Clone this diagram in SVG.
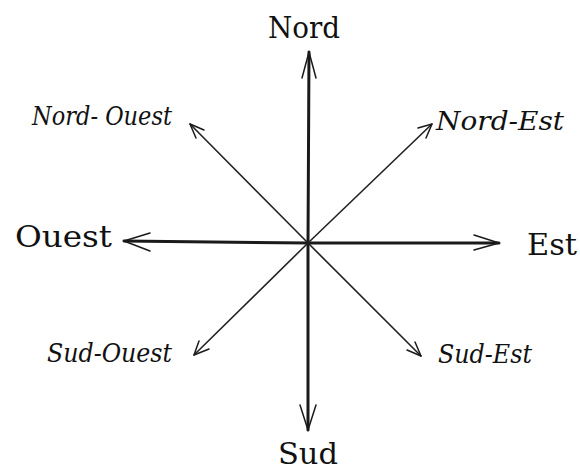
<svg xmlns="http://www.w3.org/2000/svg" width="580" height="470" viewBox="0 0 580 470">
<style>
.main{stroke:#1a1a1a;stroke-width:3;fill:none;stroke-linecap:round}
.diag{stroke:#222;stroke-width:1.6;fill:none;stroke-linecap:round}
.head{stroke:#1a1a1a;stroke-width:1.5;fill:none;stroke-linecap:round;stroke-linejoin:round}
.card{font-family:"DejaVu Serif","Liberation Serif",serif;font-size:30px;fill:#111}
.inter{font-family:"DejaVu Serif","Liberation Serif",serif;font-style:italic;font-size:26px;fill:#111}
</style>
<rect width="580" height="470" fill="#fff"/>
<g id="connectors">
<line class="main" x1="308" y1="243" x2="309" y2="52"/>
<polyline class="head" points="302,78 309,52 316,78"/>
<line class="main" x1="308" y1="243" x2="308" y2="430"/>
<polyline class="head" points="300,405 308,430 316,405"/>
<line class="main" x1="308" y1="243" x2="124" y2="241"/>
<polyline class="head" points="150,233 124,241 150,251"/>
<line class="main" x1="308" y1="243" x2="499" y2="243"/>
<polyline class="head" points="474,235 499,243 474,250"/>
<line class="diag" x1="308" y1="243" x2="190" y2="124"/>
<polyline class="head" points="196,138 190,124 204,130"/>
<line class="diag" x1="308" y1="243" x2="432" y2="124"/>
<polyline class="head" points="418,128 432,124 426,138"/>
<line class="diag" x1="308" y1="243" x2="194" y2="355"/>
<polyline class="head" points="199,341 194,355 209,349"/>
<line class="diag" x1="308" y1="243" x2="421" y2="356"/>
<polyline class="head" points="407,350 421,356 415,342"/>
</g>
<g id="nord"><text class="card" x="268" y="38" textLength="72" lengthAdjust="spacingAndGlyphs">Nord</text></g>
<g id="sud"><text class="card" x="278" y="464" textLength="60" lengthAdjust="spacingAndGlyphs">Sud</text></g>
<g id="ouest"><text class="card" x="15" y="247" textLength="97" lengthAdjust="spacingAndGlyphs">Ouest</text></g>
<g id="est"><text class="card" x="527" y="255" textLength="50" lengthAdjust="spacingAndGlyphs">Est</text></g>
<g id="nord-ouest"><text class="inter" x="32" y="125" textLength="140" lengthAdjust="spacingAndGlyphs">Nord- Ouest</text></g>
<g id="nord-est"><text class="inter" x="436" y="130" textLength="128" lengthAdjust="spacingAndGlyphs">Nord-Est</text></g>
<g id="sud-ouest"><text class="inter" x="47" y="362" textLength="125" lengthAdjust="spacingAndGlyphs">Sud-Ouest</text></g>
<g id="sud-est"><text class="inter" x="438" y="363" textLength="94" lengthAdjust="spacingAndGlyphs">Sud-Est</text></g>
</svg>
